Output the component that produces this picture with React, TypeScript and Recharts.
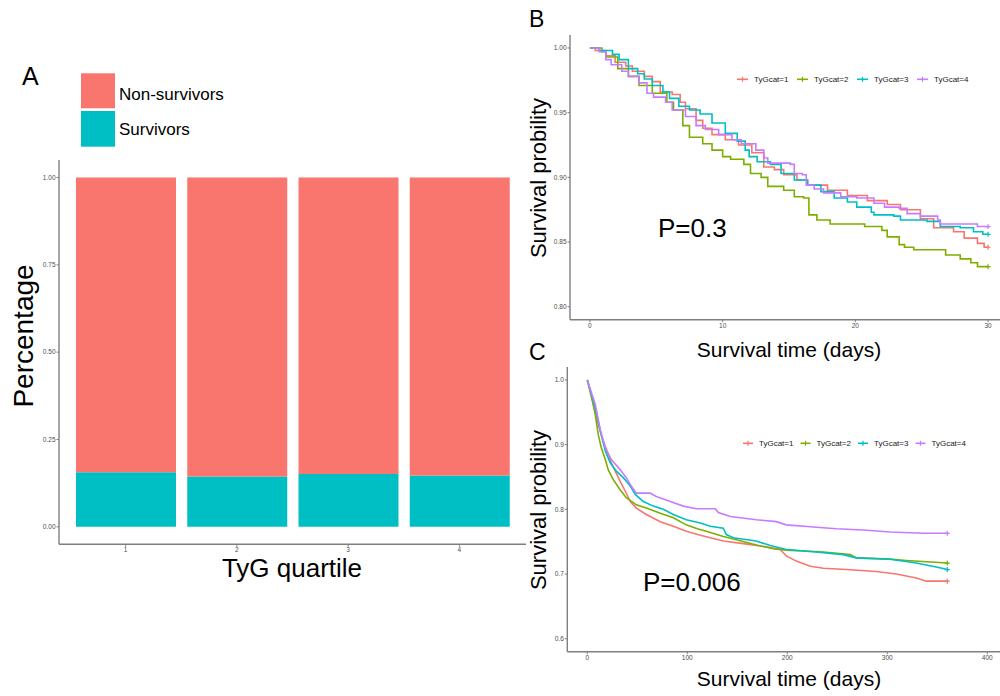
import { BarChart, Bar, XAxis, YAxis, LineChart, Line } from "recharts";

const FONT = '"Liberation Sans", Arial, Helvetica, sans-serif';
const AXIS_GREY = "#7f7f7f";
const TICK_GREY = "#4d4d4d";

// Panel A: outcome share within each TyG quartile
const quartiles = ["1", "2", "3", "4"];
const survivorsShare = [0.156, 0.144, 0.151, 0.147];
const nonSurvivorsShare = [0.844, 0.856, 0.849, 0.853];
const shareTicks = [0, 0.25, 0.5, 0.75, 1];
const outcomeColors = { nonSurvivors: "#F8766D", survivors: "#00BFC4" };

// Panels B and C: Kaplan-Meier estimates as [day, survival]
const groupNames = ["TyGcat=1", "TyGcat=2", "TyGcat=3", "TyGcat=4"];
const groupColors = ["#F8766D", "#7CAE00", "#00BFC4", "#C77CFF"];

const km30Cat1 = [
  [0, 1], [0.4, 0.998], [1.2, 0.994], [1.9, 0.989], [2.7, 0.986], [3.2, 0.982],
  [4.1, 0.978], [4.7, 0.974], [5.3, 0.966], [6.2, 0.964], [6.8, 0.958], [7.2, 0.953],
  [8.0, 0.944], [8.5, 0.938], [9.2, 0.933], [10.2, 0.929], [11.2, 0.925], [12.2, 0.919],
  [13.1, 0.908], [13.9, 0.906], [14.6, 0.902], [15.6, 0.898], [16.4, 0.894], [17.9, 0.89],
  [19.4, 0.886], [20.9, 0.882], [22.4, 0.879], [23.4, 0.875], [24.9, 0.868], [25.9, 0.861],
  [27.4, 0.858], [28.2, 0.853], [29.2, 0.849], [29.7, 0.846], [30, 0.846],
];
const km30Cat2 = [
  [0, 1], [0.9, 0.997], [1.2, 0.993], [2.1, 0.984], [2.9, 0.978], [3.7, 0.971],
  [4.7, 0.965], [5.8, 0.958], [6.3, 0.952], [7.0, 0.94], [7.5, 0.931], [8.5, 0.926],
  [9.2, 0.921], [10.0, 0.916], [10.6, 0.914], [11.6, 0.91], [12.1, 0.903], [12.9, 0.9],
  [13.4, 0.893], [14.6, 0.89], [15.4, 0.885], [16.1, 0.884], [16.5, 0.871], [17.1, 0.867],
  [18.1, 0.864], [20.7, 0.862], [22.0, 0.859], [22.4, 0.854], [23.3, 0.848], [23.7, 0.846],
  [24.4, 0.844], [26.8, 0.84], [27.9, 0.837], [28.7, 0.834], [29.2, 0.831], [30, 0.831],
];
const km30Cat3 = [
  [0, 1], [0.7, 0.998], [1.7, 0.995], [2.2, 0.991], [2.9, 0.984], [3.6, 0.98],
  [4.1, 0.976], [4.7, 0.971], [5.5, 0.966], [6.0, 0.961], [6.7, 0.955], [7.5, 0.952],
  [8.3, 0.949], [9.2, 0.942], [10.2, 0.934], [11.1, 0.928], [11.7, 0.921], [12.0, 0.916],
  [12.6, 0.912], [13.6, 0.91], [14.4, 0.903], [15.4, 0.898], [16.4, 0.894], [17.4, 0.889],
  [18.4, 0.884], [19.4, 0.881], [20.1, 0.877], [21.2, 0.873], [21.4, 0.871], [22.9, 0.87],
  [23.4, 0.867], [25.4, 0.866], [26.4, 0.862], [27.9, 0.861], [28.9, 0.858], [29.6, 0.856],
  [30, 0.856],
];
const km30Cat4 = [
  [0, 1], [0.7, 0.997], [1.2, 0.991], [1.6, 0.987], [2.4, 0.982], [2.9, 0.978],
  [3.7, 0.973], [4.3, 0.965], [4.8, 0.962], [5.7, 0.958], [6.2, 0.952], [7.2, 0.947],
  [8.0, 0.94], [8.7, 0.937], [9.7, 0.933], [10.7, 0.929], [11.4, 0.926], [12.5, 0.921],
  [13.1, 0.915], [13.4, 0.911], [15.1, 0.91], [15.4, 0.903], [16.0, 0.902], [16.3, 0.894],
  [16.9, 0.891], [17.6, 0.888], [18.9, 0.885], [20.1, 0.884], [21.4, 0.88], [22.2, 0.877],
  [23.3, 0.876], [23.9, 0.872], [24.9, 0.87], [26.2, 0.867], [26.4, 0.864], [29.2, 0.862],
  [30, 0.862],
];

const km365Cat1 = [
  [0, 1], [3, 0.98], [6, 0.962], [11, 0.931], [16, 0.905], [21, 0.885], [24, 0.872],
  [28, 0.859], [33, 0.843], [38, 0.828], [43, 0.812], [49, 0.802], [59, 0.792], [73, 0.781],
  [86, 0.774], [99, 0.766], [113, 0.76], [123, 0.756], [136, 0.751], [156, 0.747],
  [179, 0.742], [193, 0.738], [199, 0.728], [209, 0.72], [223, 0.712], [236, 0.709],
  [259, 0.707], [289, 0.704], [309, 0.7], [329, 0.694], [339, 0.689], [360, 0.689],
];
const km365Cat2 = [
  [0, 1], [4, 0.977], [8, 0.946], [11, 0.915], [14, 0.895], [18, 0.877], [21, 0.861],
  [26, 0.846], [33, 0.83], [39, 0.818], [49, 0.807], [59, 0.802], [73, 0.794], [86, 0.787],
  [99, 0.776], [110, 0.77], [119, 0.766], [136, 0.758], [149, 0.753], [169, 0.745],
  [186, 0.739], [199, 0.737], [236, 0.734], [263, 0.73], [269, 0.725], [303, 0.723],
  [319, 0.721], [360, 0.717],
];
const km365Cat3 = [
  [0, 1], [8, 0.957], [13, 0.921], [18, 0.89], [23, 0.872], [29, 0.859], [36, 0.849],
  [43, 0.836], [48, 0.823], [56, 0.812], [66, 0.805], [76, 0.8], [86, 0.792], [99, 0.784],
  [113, 0.779], [123, 0.774], [136, 0.771], [139, 0.761], [146, 0.756], [169, 0.751],
  [183, 0.744], [199, 0.738], [229, 0.734], [256, 0.73], [269, 0.725], [303, 0.723],
  [329, 0.717], [349, 0.711], [360, 0.707],
];
const km365Cat4 = [
  [0, 1], [8, 0.962], [13, 0.923], [18, 0.895], [24, 0.877], [33, 0.861], [39, 0.849],
  [44, 0.836], [49, 0.825], [63, 0.825], [69, 0.82], [83, 0.812], [96, 0.805], [109, 0.801],
  [128, 0.801], [131, 0.795], [143, 0.789], [169, 0.784], [189, 0.781], [199, 0.776],
  [223, 0.773], [249, 0.77], [276, 0.768], [303, 0.765], [336, 0.763], [360, 0.763],
];

const km30 = [km30Cat1, km30Cat2, km30Cat3, km30Cat4];
const km365 = [km365Cat1, km365Cat2, km365Cat3, km365Cat4];

const days30Ticks = [0, 10, 20, 30];
const surv30Ticks = [0.8, 0.85, 0.9, 0.95, 1];
const days365Ticks = [0, 100, 200, 300, 400];
const surv365Ticks = [0.6, 0.7, 0.8, 0.9, 1];

const shareData = quartiles.map((q, i) => ({
  q,
  survivors: survivorsShare[i],
  nonSurvivors: nonSurvivorsShare[i],
}));

const axisLine = { stroke: AXIS_GREY, strokeWidth: 1.4 };
const tickLine = { stroke: AXIS_GREY, strokeWidth: 1 };
const tickStyle = { fontSize: 6.5, fill: TICK_GREY, fontFamily: FONT };

// small "+" censor mark, drawn only at the end of each curve
const endMark = (color: string, last: number) => (props: any) => {
  const { cx, cy, index } = props;
  if (index !== last) return <g key={`m${index}`} />;
  return (
    <path
      key={`m${index}`}
      d={`M${cx - 2.5},${cy}h5M${cx},${cy - 2.5}v5`}
      stroke={color}
      strokeWidth={1.2}
      fill="none"
    />
  );
};

type KmPanelProps = {
  curves: number[][][];
  xDomain: [number, number];
  xTicks: number[];
  yDomain: [number, number];
  yTicks: number[];
  yDigits: number;
  width: number;
  height: number;
  margin: { top: number; right: number; bottom: number; left: number };
  yAxisWidth: number;
  curveType: "stepAfter" | "linear";
};

function KmPanel({
  curves,
  xDomain,
  xTicks,
  yDomain,
  yTicks,
  yDigits,
  width,
  height,
  margin,
  yAxisWidth,
  curveType,
}: KmPanelProps) {
  return (
    <LineChart width={width} height={height} margin={margin}>
      <XAxis
        type="number"
        dataKey="t"
        domain={xDomain}
        ticks={xTicks}
        interval={0}
        allowDataOverflow
        height={16}
        axisLine={axisLine}
        tickLine={tickLine}
        tick={tickStyle}
        tickSize={2.5}
        tickMargin={1}
      />
      <YAxis
        type="number"
        domain={yDomain}
        ticks={yTicks}
        interval={0}
        allowDataOverflow
        width={yAxisWidth}
        tickFormatter={(v: number) => v.toFixed(yDigits)}
        axisLine={axisLine}
        tickLine={tickLine}
        tick={tickStyle}
        tickSize={2.5}
        tickMargin={1}
      />
      {curves.map((pts, i) => (
        <Line
          key={groupNames[i]}
          data={pts.map(([t, s]) => ({ t, s }))}
          dataKey="s"
          type={curveType}
          stroke={groupColors[i]}
          strokeWidth={1.6}
          dot={endMark(groupColors[i], pts.length - 1)}
          activeDot={false}
          isAnimationActive={false}
        />
      ))}
    </LineChart>
  );
}

function KmLegend({ x, y, lineLen, gap, spacing }: { x: number; y: number; lineLen: number; gap: number; spacing: number }) {
  const textW = 35;
  return (
    <g>
      {groupNames.map((name, i) => {
        const x0 = x + i * (lineLen + gap + textW + spacing);
        return (
          <g key={name}>
            <line x1={x0} y1={y} x2={x0 + lineLen} y2={y} stroke={groupColors[i]} strokeWidth={1.6} />
            <line x1={x0 + lineLen / 2} y1={y - 2.5} x2={x0 + lineLen / 2} y2={y + 2.5} stroke={groupColors[i]} strokeWidth={1.2} />
            <text x={x0 + lineLen + gap} y={y + 2.9} fontSize={8} fill="#1a1a1a">
              {name}
            </text>
          </g>
        );
      })}
    </g>
  );
}

export default function App() {
  return (
    <div
      style={{
        position: "absolute",
        left: 0,
        top: 0,
        width: 1000,
        height: 696,
        overflow: "hidden",
        background: "#fff",
        fontFamily: FONT,
      }}
    >
      {/* A: stacked shares by quartile */}
      <div style={{ position: "absolute", left: 0, top: 60 }}>
        <BarChart
          width={540}
          height={540}
          data={shareData}
          margin={{ top: 100, right: 14, bottom: 39.7, left: 0 }}
          barSize={100}
        >
          <XAxis
            dataKey="q"
            padding={{ left: 11, right: 11 }}
            height={16}
            axisLine={axisLine}
            tickLine={tickLine}
            tick={tickStyle}
            tickSize={2.5}
            tickMargin={1}
          />
          <YAxis
            type="number"
            domain={[-0.05, 1.05]}
            ticks={shareTicks}
            interval={0}
            allowDataOverflow
            width={59}
            tickFormatter={(v: number) => v.toFixed(2)}
            axisLine={axisLine}
            tickLine={tickLine}
            tick={tickStyle}
            tickSize={2.5}
            tickMargin={1}
          />
          <Bar dataKey="survivors" stackId="share" fill={outcomeColors.survivors} isAnimationActive={false} />
          <Bar dataKey="nonSurvivors" stackId="share" fill={outcomeColors.nonSurvivors} isAnimationActive={false} />
        </BarChart>
      </div>

      {/* B: 30-day survival */}
      <div style={{ position: "absolute", left: 520, top: 0 }}>
        <KmPanel
          curves={km30}
          xDomain={[-1.5, 31.5]}
          xTicks={days30Ticks}
          yDomain={[0.79, 1.01]}
          yTicks={surv30Ticks}
          yDigits={2}
          width={500}
          height={380}
          margin={{ top: 35, right: 12, bottom: 44.3, left: 0 }}
          yAxisWidth={50}
          curveType="stepAfter"
        />
      </div>

      {/* C: one-year survival */}
      <div style={{ position: "absolute", left: 520, top: 340 }}>
        <KmPanel
          curves={km365}
          xDomain={[-20, 420]}
          xTicks={days365Ticks}
          yDomain={[0.58, 1.02]}
          yTicks={surv365Ticks}
          yDigits={1}
          width={500}
          height={356}
          margin={{ top: 27, right: 12.7, bottom: 28.3, left: 0 }}
          yAxisWidth={47.3}
          curveType="linear"
        />
      </div>

      {/* titles, panel letters, legends and p-values */}
      <svg
        width={1000}
        height={696}
        style={{ position: "absolute", left: 0, top: 0, pointerEvents: "none" }}
        fontFamily={FONT}
      >
        <text x={22} y={85} fontSize={25} fill="#000">A</text>
        <text x={529} y={27} fontSize={23} fill="#000">B</text>
        <text x={529} y={360} fontSize={23} fill="#000">C</text>

        <rect x={81} y={73.3} width={34} height={35} fill={outcomeColors.nonSurvivors} />
        <rect x={81} y={111} width={34} height={35.7} fill={outcomeColors.survivors} />
        <text x={119} y={99.5} fontSize={17} fill="#000">Non-survivors</text>
        <text x={119} y={134.5} fontSize={17} fill="#000">Survivors</text>

        <text x={33} y={336} fontSize={28} textAnchor="middle" transform="rotate(-90 33 336)" fill="#000">
          Percentage
        </text>
        <text x={292} y={577} fontSize={26} textAnchor="middle" fill="#000">TyG quartile</text>

        <text x={546} y={178} fontSize={22} textAnchor="middle" transform="rotate(-90 546 178)" fill="#000">
          Survival probility
        </text>
        <text x={789} y={357} fontSize={21} textAnchor="middle" fill="#000">Survival time (days)</text>
        <text x={658} y={237} fontSize={26} fill="#000">P=0.3</text>
        <KmLegend x={737} y={79.3} lineLen={11} gap={6} spacing={8} />

        <text x={546} y={510} fontSize={22} textAnchor="middle" transform="rotate(-90 546 510)" fill="#000">
          Survival probility
        </text>
        <text x={789} y={686} fontSize={21} textAnchor="middle" fill="#000">Survival time (days)</text>
        <text x={643} y={591} fontSize={26} fill="#000">P=0.006</text>
        <KmLegend x={743} y={443.3} lineLen={10} gap={6} spacing={6.5} />
      </svg>
    </div>
  );
}
